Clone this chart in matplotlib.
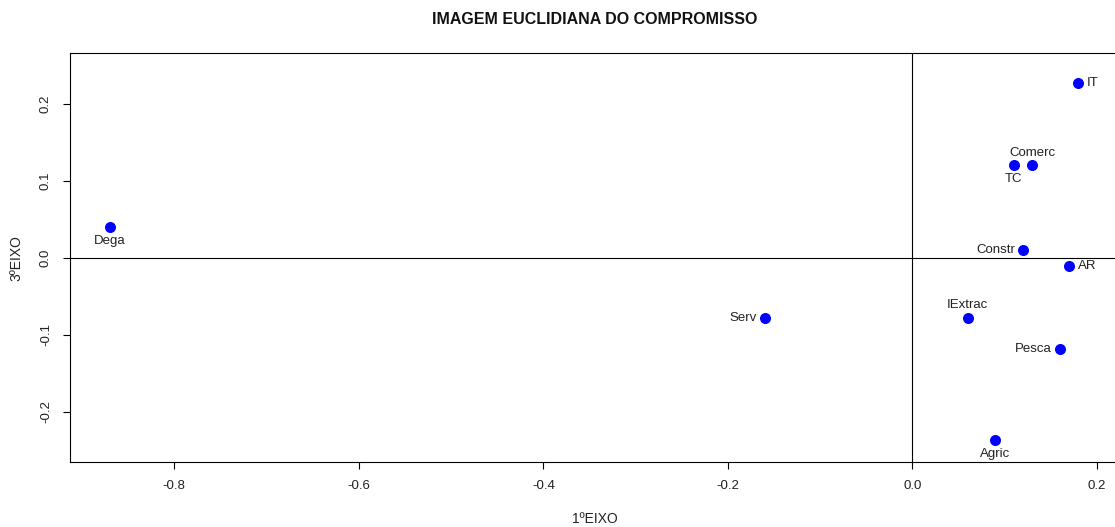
import matplotlib
matplotlib.use('Agg')
import matplotlib.pyplot as plt

# Coordenadas dos sectores (1º eixo, 3º eixo)
nomes = ['Dega', 'Serv', 'IT', 'Comerc', 'TC', 'Constr', 'AR', 'IExtrac', 'Pesca', 'Agric']
eixo1 = [-0.87, -0.16, 0.18, 0.13, 0.11, 0.12, 0.17, 0.06, 0.16, 0.09]
eixo3 = [0.04, -0.078, 0.227, 0.12, 0.12, 0.01, -0.01, -0.078, -0.118, -0.237]
# posicao do rotulo: 1=abaixo, 2=esquerda, 3=acima, 4=direita (como no R)
posicao = [1, 2, 4, 3, 1, 2, 4, 3, 2, 1]

plt.rcParams['font.family'] = ['Liberation Sans', 'DejaVu Sans']

fig = plt.figure(figsize=(11.15, 5.27), dpi=100)
ax = fig.add_axes([70 / 1115, 1 - 462 / 527, 1050 / 1115, (462 - 53) / 527])

ax.scatter(eixo1, eixo3, s=48, color='blue', zorder=3)

desl = {1: (0, -10, 'center', 'center'), 2: (-6, 0, 'right', 'center'),
        3: (0, 9, 'center', 'center'), 4: (6, 0, 'left', 'center')}
for nome, x, y, p in zip(nomes, eixo1, eixo3, posicao):
    dx, dy, ha, va = desl[p]
    ax.annotate(nome, (x, y), xytext=(dx, dy), textcoords='offset points',
                ha=ha, va=va, fontsize=9.5, color='#222222')

ax.axhline(0, color='black', lw=0.8)
ax.axvline(0, color='black', lw=0.8)

ax.set_xlim(-0.913, 0.225)
ax.set_ylim(-0.265, 0.266)
ax.set_xticks([-0.8, -0.6, -0.4, -0.2, 0.0, 0.2])
ax.set_xticklabels(['-0.8', '-0.6', '-0.4', '-0.2', '0.0', '0.2'])
ax.set_yticks([-0.2, -0.1, 0.0, 0.1, 0.2])
ax.set_yticklabels(['-0.2', '-0.1', '0.0', '0.1', '0.2'], rotation=90, va='center')
ax.tick_params(labelsize=9.5, length=5, width=0.8, pad=8, labelcolor='#222222')
for s in ax.spines.values():
    s.set_linewidth(0.8)

fig.text(595 / 1115, 1 - 20 / 527, 'IMAGEM EUCLIDIANA DO COMPROMISSO',
         ha='center', va='center', fontsize=11.5, fontweight='bold', color='#111111')
fig.text(595 / 1115, 1 - 519 / 527, '1ºEIXO', ha='center', va='center', fontsize=10, color='#222222')
fig.text(16 / 1115, 1 - 258 / 527, '3ºEIXO', ha='center', va='center', fontsize=10,
         rotation=90, color='#222222')

fig.savefig('out.png', dpi=100)
